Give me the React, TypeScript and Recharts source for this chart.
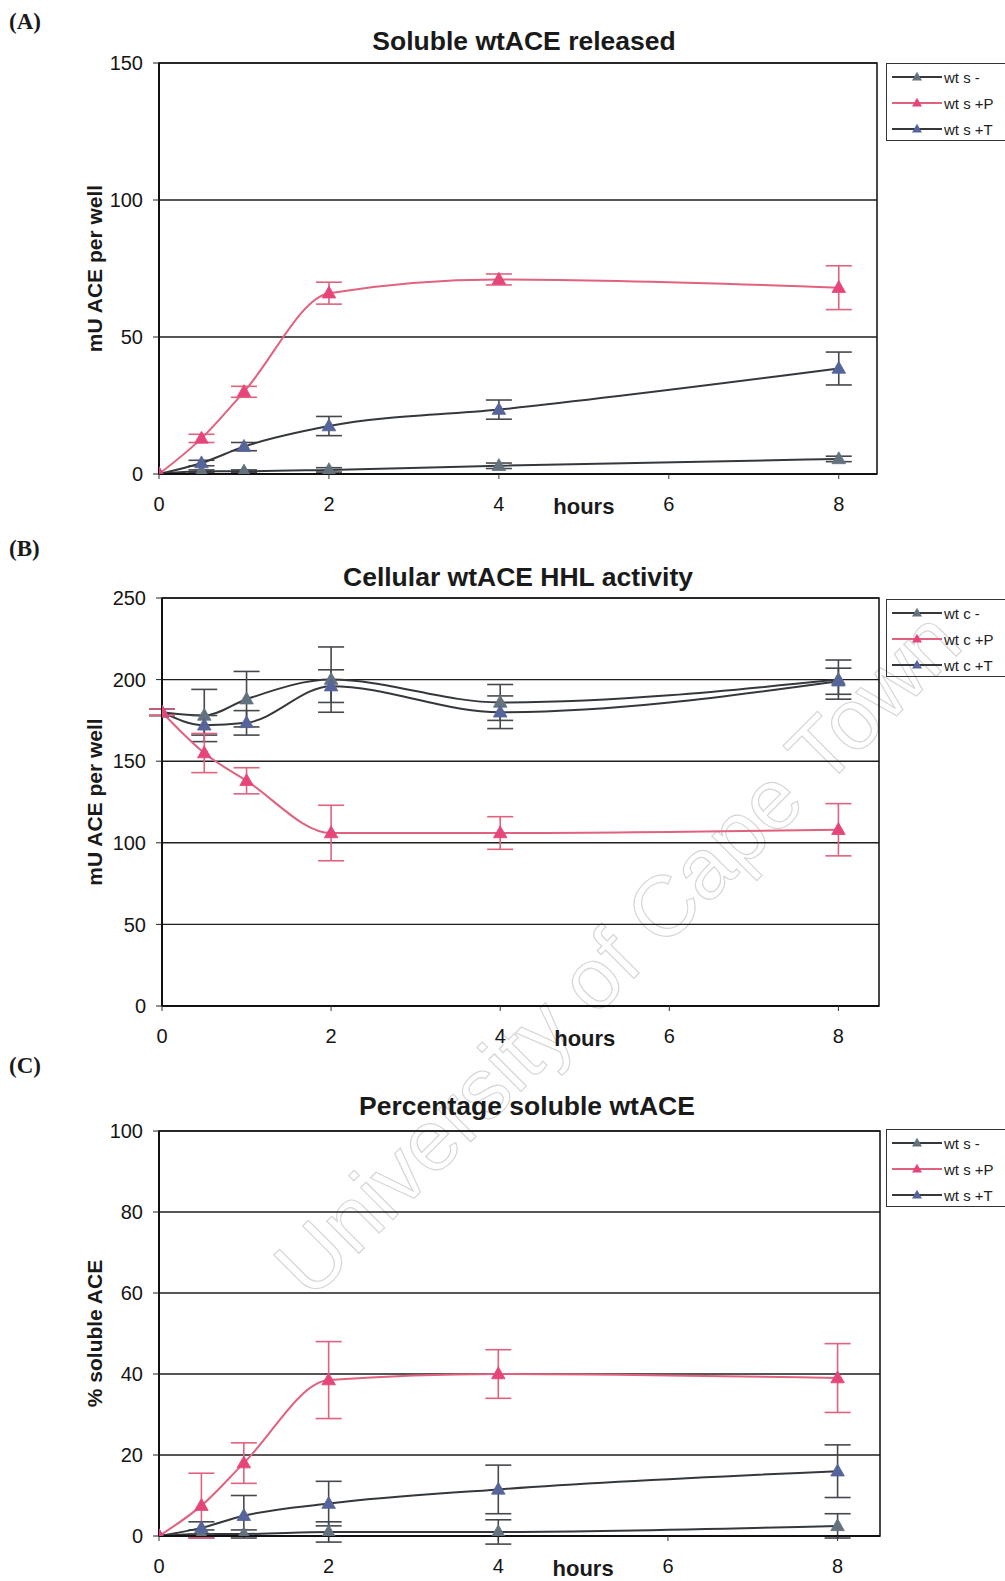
import React from 'react';
import { LineChart, Line, XAxis, YAxis, CartesianGrid, ErrorBar, Legend, ReferenceArea, Label } from 'recharts';

const hours = [0, 0.5, 1, 2, 4, 8];
const xTicks = [0, 2, 4, 6, 8];

// Panel A – Soluble wtACE released
const aTicks = [0, 50, 100, 150];
const aMinus = [0, 1, 1, 1.5, 3, 5.5];
const aMinusErr = [0, 0.5, 0.5, 0.8, 1, 1];
const aPlusP = [0, 13, 30, 66, 71, 68];
const aPlusPErr = [0, 1.5, 2, 4, 2, 8];
const aPlusT = [0, 4, 10, 17.5, 23.5, 38.5];
const aPlusTErr = [0, 1, 1.5, 3.5, 3.5, 6];

// Panel B – Cellular wtACE HHL activity
const bTicks = [0, 50, 100, 150, 200, 250];
const bMinus = [180, 178, 188, 200, 186, 200];
const bMinusErr = [2, 16, 17, 20, 11, 12];
const bPlusP = [180, 155, 138, 106, 106, 108];
const bPlusPErr = [2, 12, 8, 17, 10, 16];
const bPlusT = [180, 172, 173.5, 196, 180, 199];
const bPlusTErr = [2, 6, 7.5, 10, 10, 8];

// Panel C – Percentage soluble wtACE
const cTicks = [0, 20, 40, 60, 80, 100];
const cMinus = [0, 0.5, 0.5, 1, 1, 2.5];
const cMinusErr = [0, 1, 1, 2.5, 3, 3];
const cPlusP = [0, 7.5, 18, 38.5, 40, 39];
const cPlusPErr = [0, 8, 5, 9.5, 6, 8.5];
const cPlusT = [0, 2, 5, 8, 11.5, 16];
const cPlusTErr = [0, 1.5, 5, 5.5, 6, 6.5];

const FONT = 'Liberation Sans, Arial, sans-serif';
const GREY_LINE = '#34383d';
const PINK_LINE = '#e0627f';
const PINK_MARK = '#e6457a';
const MINUS_MARK = '#63727c';
const T_MARK = '#55649a';
const ERR = '#45484d';

type Series = { key: string; name: string; values: number[]; errors: number[]; line: string; marker: string; err: string };

const tri = (cx: number, cy: number, s: number) =>
  `M${cx},${cy - s * 1.05} L${cx + s},${cy + s * 0.7} L${cx - s},${cy + s * 0.7} Z`;

const makeDot = (color: string) => (props: any) => {
  const { cx, cy, index } = props;
  if (cx == null || cy == null) return <g key={`n${index}`} />;
  return <path key={`d${index}`} d={tri(cx, cy, 6.8)} fill={color} stroke={color} strokeWidth={0.8} />;
};

type PanelProps = {
  top: number; height: number; plotLeft: number; plotRight: number; plotTop: number; plotBottom: number;
  xMax: number; yTicks: number[]; series: Series[]; legendSeries: Series[]; yLabel: string; legendTop: number;
};

function Panel(p: PanelProps) {
  const W = 1005;
  const yAxisW = 100;
  const xAxisH = 40;
  const data = hours.map((h, i) => {
    const row: any = { h };
    p.series.forEach((s) => {
      row[s.key] = s.values[i];
      row[s.key + 'Err'] = s.errors[i];
    });
    return row;
  });
  const yMax = p.yTicks[p.yTicks.length - 1];
  const margin = {
    top: p.plotTop - p.top,
    right: W - p.plotRight,
    left: p.plotLeft - yAxisW,
    bottom: p.height - (p.plotBottom - p.top) - xAxisH,
  };
  const legendContent = () => (
    <div style={{ width: 130, height: 78, border: '1.5px solid #333', boxSizing: 'border-box', fontFamily: FONT, fontSize: 15, color: '#222', position: 'relative' }}>
      {p.legendSeries.map((s, i) => (
        <div key={s.key} style={{ position: 'absolute', left: 3, top: 2 + i * 26, height: 22, display: 'flex', alignItems: 'center', whiteSpace: 'nowrap' }}>
          <svg width={52} height={22}>
            <line x1={2} y1={11} x2={52} y2={11} stroke={s.line} strokeWidth={2} />
            <path d={tri(27, 11, 5)} fill={s.marker} />
          </svg>
          <span style={{ marginLeft: 2 }}>{s.name}</span>
        </div>
      ))}
    </div>
  );
  const hoursLabel = (props: any) => {
    const vb = props.viewBox || {};
    const x = vb.x + (vb.width * 5) / p.xMax;
    const y = vb.y + 32;
    return (
      <text x={x} y={y} textAnchor="middle" dominantBaseline="central" fontFamily={FONT} fontWeight="bold" fontSize={22} fill="#1a1a1a">
        hours
      </text>
    );
  };
  const yLabelContent = (props: any) => {
    const vb = props.viewBox || {};
    const cy = vb.y + vb.height / 2;
    const lx = 94;
    return (
      <text x={lx} y={cy} transform={`rotate(-90 ${lx} ${cy})`} textAnchor="middle" dominantBaseline="central" fontFamily={FONT} fontWeight="bold" fontSize={21} fill="#1a1a1a">
        {p.yLabel}
      </text>
    );
  };
  return (
    <div style={{ position: 'absolute', left: 0, top: p.top, width: W, height: p.height }}>
      <LineChart width={W} height={p.height} data={data} margin={margin}>
        <CartesianGrid vertical={false} stroke="#1e1e1e" strokeWidth={1.4} />
        <ReferenceArea x1={0} x2={p.xMax} y1={0} y2={yMax} fill="none" stroke="#1a1a1a" strokeWidth={1.6} ifOverflow="visible" />
        <XAxis
          type="number"
          dataKey="h"
          domain={[0, p.xMax]}
          ticks={xTicks}
          allowDataOverflow
          height={xAxisH}
          tickSize={5}
          tickMargin={18}
          axisLine={{ stroke: '#111', strokeWidth: 2 }}
          tickLine={{ stroke: '#333' }}
          tick={{ fontSize: 20, fill: '#151515', fontFamily: FONT }}
        >
          <Label content={hoursLabel} />
        </XAxis>
        <YAxis
          type="number"
          domain={[0, yMax]}
          ticks={p.yTicks}
          width={yAxisW}
          allowDataOverflow
          tickSize={6}
          tickMargin={10}
          axisLine={{ stroke: '#111', strokeWidth: 2 }}
          tickLine={{ stroke: '#222' }}
          tick={{ fontSize: 20, fill: '#151515', fontFamily: FONT }}
        >
          <Label content={yLabelContent} />
        </YAxis>
        <Legend
          layout="vertical"
          align="center"
          verticalAlign="middle"
          content={legendContent}
          wrapperStyle={{ left: 886, top: p.legendTop - p.top, width: 130, height: 78 }}
        />
        {p.series.map((s) => (
          <Line
            key={s.key}
            type="monotone"
            dataKey={s.key}
            name={s.name}
            stroke={s.line}
            strokeWidth={2}
            dot={makeDot(s.marker)}
            activeDot={false}
            isAnimationActive={false}
          >
            <ErrorBar dataKey={s.key + 'Err'} width={13} stroke={s.err} strokeWidth={1.6} direction="y" />
          </Line>
        ))}
      </LineChart>
    </div>
  );
}

const seriesA: Series[] = [
  { key: 'minus', name: 'wt s -', values: aMinus, errors: aMinusErr, line: GREY_LINE, marker: MINUS_MARK, err: ERR },
  { key: 'plusT', name: 'wt s +T', values: aPlusT, errors: aPlusTErr, line: GREY_LINE, marker: T_MARK, err: ERR },
  { key: 'plusP', name: 'wt s +P', values: aPlusP, errors: aPlusPErr, line: PINK_LINE, marker: PINK_MARK, err: PINK_LINE },
];
const seriesB: Series[] = [
  { key: 'minus', name: 'wt c -', values: bMinus, errors: bMinusErr, line: GREY_LINE, marker: MINUS_MARK, err: ERR },
  { key: 'plusT', name: 'wt c +T', values: bPlusT, errors: bPlusTErr, line: GREY_LINE, marker: T_MARK, err: ERR },
  { key: 'plusP', name: 'wt c +P', values: bPlusP, errors: bPlusPErr, line: PINK_LINE, marker: PINK_MARK, err: PINK_LINE },
];
const seriesC: Series[] = [
  { key: 'minus', name: 'wt s -', values: cMinus, errors: cMinusErr, line: GREY_LINE, marker: MINUS_MARK, err: ERR },
  { key: 'plusT', name: 'wt s +T', values: cPlusT, errors: cPlusTErr, line: GREY_LINE, marker: T_MARK, err: ERR },
  { key: 'plusP', name: 'wt s +P', values: cPlusP, errors: cPlusPErr, line: PINK_LINE, marker: PINK_MARK, err: PINK_LINE },
];
const legendOrder = (s: Series[]) => [s[0], s[2], s[1]];

const titleStyle = (cx: number, cy: number): React.CSSProperties => ({
  position: 'absolute', left: cx - 300, top: cy - 16, width: 600, height: 32, lineHeight: '32px', textAlign: 'center',
  fontFamily: FONT, fontWeight: 'bold', fontSize: 26.5, color: '#1a1a1a', whiteSpace: 'nowrap',
});
const panelLabelStyle = (cy: number): React.CSSProperties => ({
  position: 'absolute', left: 9, top: cy - 14, height: 28, lineHeight: '28px',
  fontFamily: 'Liberation Serif, Times New Roman, serif', fontWeight: 'bold', fontSize: 23, color: '#1a1a1a',
});

export default function App() {
  return (
    <div style={{ position: 'absolute', left: 0, top: 0, width: 1005, height: 1581, overflow: 'hidden', background: '#fff' }}>
      <svg width={1005} height={1581} style={{ position: 'absolute', left: 0, top: 0 }}>
        <text x={617} y={953} transform="rotate(-45 617 953)" textAnchor="middle" dominantBaseline="central"
          fontFamily={FONT} fontSize={86} fill="none" stroke="#d6d6d6" strokeWidth={1.2}>
          University of Cape Town
        </text>
      </svg>
      <div style={panelLabelStyle(22)}>(A)</div>
      <div style={panelLabelStyle(549)}>(B)</div>
      <div style={panelLabelStyle(1066)}>(C)</div>
      <div style={titleStyle(524, 41)}>Soluble wtACE released</div>
      <div style={titleStyle(518, 577)}>Cellular wtACE HHL activity</div>
      <div style={titleStyle(527, 1106)}>Percentage soluble wtACE</div>
      <Panel top={0} height={530} plotLeft={159} plotRight={877} plotTop={63} plotBottom={474} xMax={8.45}
        yTicks={aTicks} series={seriesA} legendSeries={legendOrder(seriesA)} yLabel="mU ACE per well" legendTop={63} />
      <Panel top={540} height={530} plotLeft={162} plotRight={879} plotTop={598} plotBottom={1006} xMax={8.48}
        yTicks={bTicks} series={seriesB} legendSeries={legendOrder(seriesB)} yLabel="mU ACE per well" legendTop={599} />
      <Panel top={1080} height={501} plotLeft={159} plotRight={880} plotTop={1131} plotBottom={1536} xMax={8.5}
        yTicks={cTicks} series={seriesC} legendSeries={legendOrder(seriesC)} yLabel="% soluble ACE" legendTop={1129} />
    </div>
  );
}
